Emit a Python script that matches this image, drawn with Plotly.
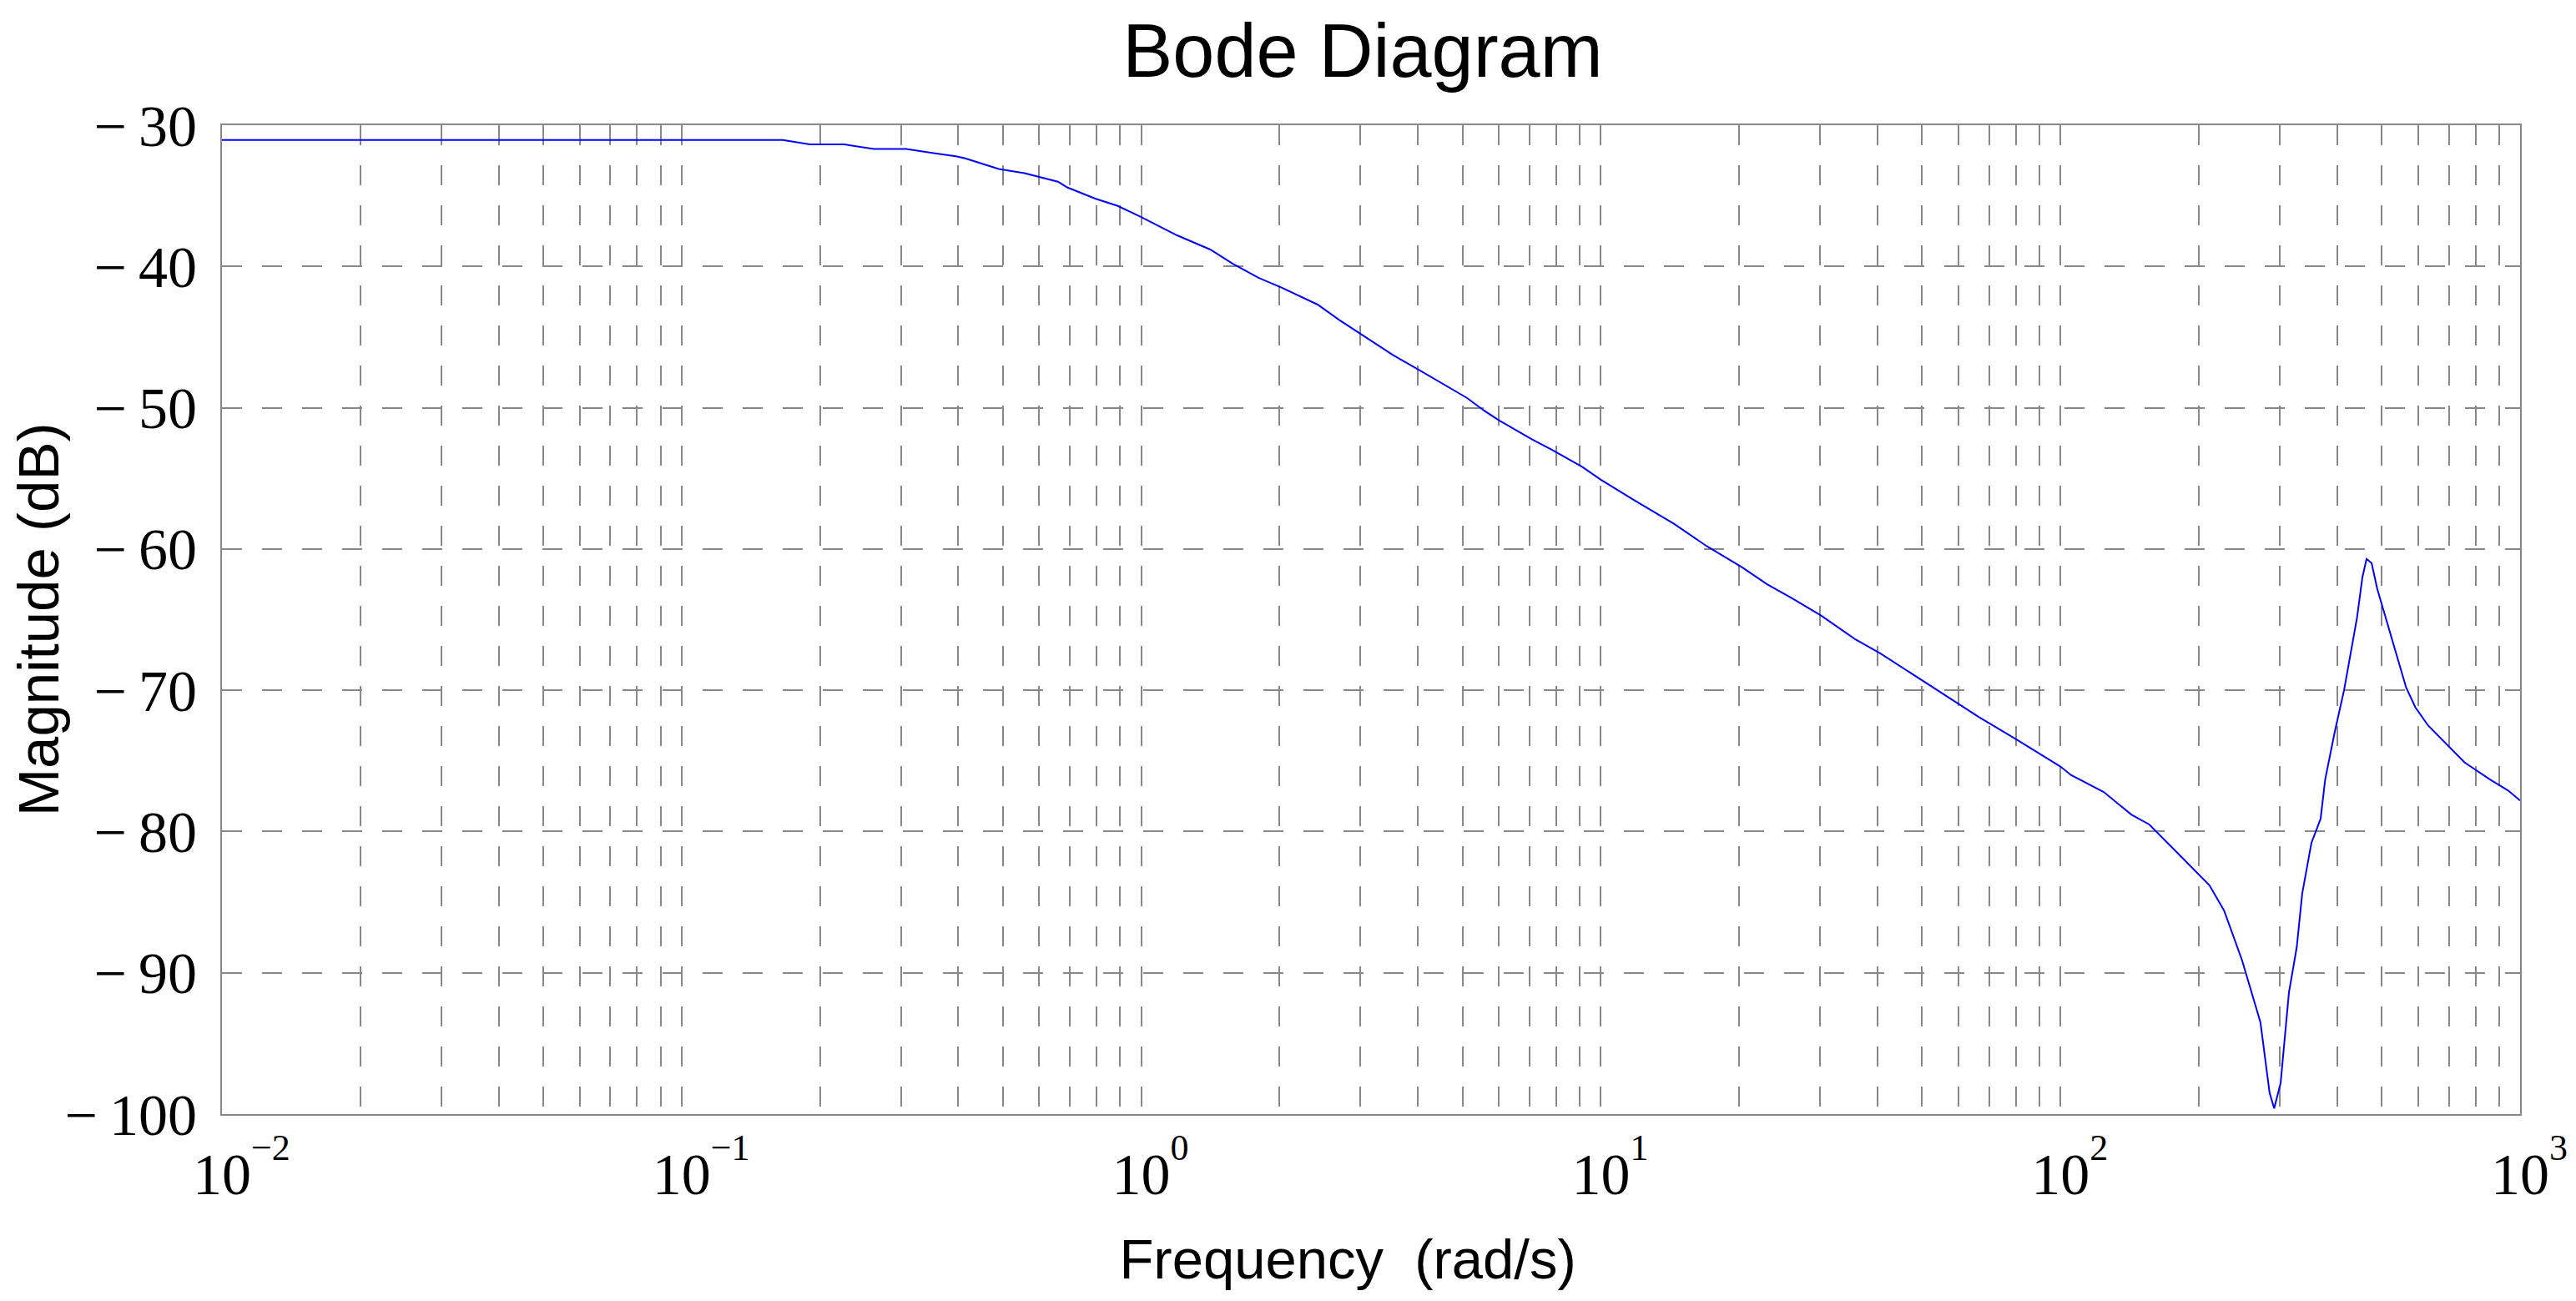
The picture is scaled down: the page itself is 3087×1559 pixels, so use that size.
import plotly.graph_objects as go

# ---- data ----
freq = [0.01, 0.166, 0.19, 0.226, 0.262, 0.308, 0.356, 0.395, 0.414, 0.49, 0.557, 0.659, 0.69,
        0.794, 0.887, 1.0, 1.197, 1.413, 1.58, 1.80, 2.02, 2.42, 2.70, 3.07, 3.54, 4.06, 4.57,
        5.11, 5.57, 6.01, 7.05, 7.85, 9.12, 10.0, 11.9, 14.4, 17.0, 20.3, 23.0, 26.1, 30.1,
        35.8, 40.6, 50.0, 60.1, 66.5, 79.4, 89.1, 100.0, 105.4, 124.2, 142.6, 156.0, 175.8,
        210.9, 227.0, 248.3, 272.3, 285.1, 291.7, 301.3, 314.1, 326.6, 335.7, 351.6, 368.1,
        376.7, 395.4, 414.0, 441.6, 453.9, 463.4, 475.3, 488.7, 524.8, 564.9, 591.6, 631.0,
        756.8, 859.0, 941.9, 1000.0]
mag_db = [-31.05, -31.05, -31.36, -31.36, -31.68, -31.68, -32.0, -32.2, -32.35, -33.1, -33.4,
          -34.0, -34.4, -35.2, -35.7, -36.5, -37.8, -38.8, -39.8, -40.8, -41.5, -42.7, -43.8,
          -45.0, -46.3, -47.4, -48.4, -49.3, -50.2, -50.9, -52.2, -53.0, -54.2, -55.1, -56.6,
          -58.2, -59.8, -61.3, -62.5, -63.5, -64.7, -66.4, -67.4, -69.3, -71.0, -71.9, -73.4,
          -74.4, -75.4, -76.0, -77.2, -78.8, -79.5, -81.2, -83.8, -85.6, -89.1, -93.5, -98.5,
          -99.6, -97.8, -91.4, -88.2, -84.4, -80.8, -79.1, -76.3, -72.9, -70.0, -64.9, -62.0,
          -60.7, -61.0, -62.8, -66.3, -69.8, -71.2, -72.5, -75.1, -76.3, -77.1, -77.8]

x_tick_vals = [0.01, 0.1, 1, 10, 100, 1000]
x_tick_exps = ["−2", "−1", "0", "1", "2", "3"]
y_tick_vals = [-100, -90, -80, -70, -60, -50, -40, -30]
y_tick_text = ["−\u2009100", "−\u200990", "−\u200980", "−\u200970", "−\u200960",
               "−\u200950", "−\u200940", "−\u200930"]
minor_multipliers = [2, 3, 4, 5, 6, 7, 8, 9]

title_text = "Bode Diagram"
x_title = "Frequency  (rad/s)"
y_title = "Magnitude (dB)"

# ---- styling ----
GRID = "#888888"
DASH = "24px,24px"
SERIF = "Liberation Serif, Times New Roman, serif"
SANS = "Liberation Sans, Arial, sans-serif"


def power_label(e):
    sup = '<sup><span style="font-size:44px">%s</span></sup>' % e
    hidden = '<span style="color:rgba(0,0,0,0)">%s</span>' % sup
    return ('<span style="font-size:98px">' + hidden
            + '<span style="font-size:70px">10</span>' + sup + '</span>')


x_tick_text = [power_label(e) for e in x_tick_exps]
minor_vals = [m * d for d in x_tick_vals[:-1] for m in minor_multipliers]

fig = go.Figure()
fig.add_trace(go.Scatter(
    x=freq, y=mag_db, mode="lines",
    line=dict(color="#0000ff", width=2),
    showlegend=False, hoverinfo="skip",
))

fig.update_layout(
    width=3087, height=1559,
    paper_bgcolor="white", plot_bgcolor="white",
    margin=dict(l=258, r=75, t=142, b=232, autoexpand=False),
    title=dict(text=title_text, x=0.5264, xanchor="center", xref="container",
               y=1 - 52 / 1559, yanchor="middle", yref="container",
               font=dict(family=SANS, size=90, color="black")),
    xaxis=dict(
        type="log", range=[-2, 3],
        tickmode="array", tickvals=x_tick_vals, ticktext=x_tick_text,
        ticks="", ticklabelstandoff=10,
        tickfont=dict(family=SERIF, size=70, color="black"),
        showgrid=True, gridcolor=GRID, gridwidth=2, griddash=DASH,
        minor=dict(tickmode="array", tickvals=minor_vals, showgrid=True,
                   gridcolor=GRID, gridwidth=2, griddash=DASH, ticks=""),
        showline=True, linecolor=GRID, linewidth=2, mirror=True,
        zeroline=False, automargin=False,
        title=dict(text=x_title + '<span style="color:rgba(0,0,0,0)">m</span>', standoff=40,
                   font=dict(family=SANS, size=67, color="black")),
    ),
    yaxis=dict(
        range=[-100, -30],
        tickmode="array", tickvals=y_tick_vals, ticktext=y_tick_text,
        ticks="", ticklabelstandoff=14,
        tickfont=dict(family=SERIF, size=70, color="black"),
        showgrid=True, gridcolor=GRID, gridwidth=2, griddash=DASH,
        showline=True, linecolor=GRID, linewidth=2, mirror=True,
        zeroline=False, automargin=False,
        title=dict(text=y_title, standoff=30,
                   font=dict(family=SANS, size=69, color="black")),
    ),
)

fig.write_html("out.html")
